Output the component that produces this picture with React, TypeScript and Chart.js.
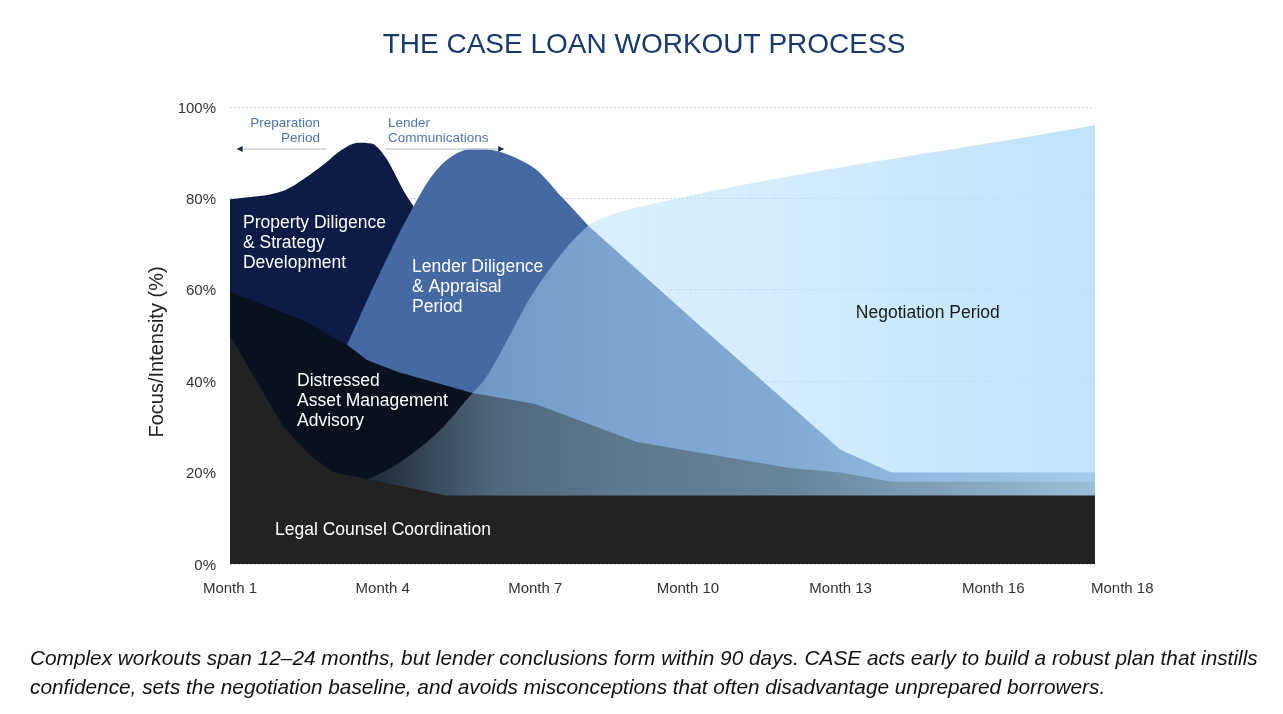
import React, { useEffect, useRef } from "react";
import { Chart, registerables } from "chart.js";

Chart.register(...registerables);

// ---------- text ----------
const TITLE = "THE CASE LOAN WORKOUT PROCESS";
const Y_TITLE = "Focus/Intensity (%)";
const CAPTION_LINES = [
  "Complex workouts span 12–24 months, but lender conclusions form within 90 days. CASE acts early to build a robust plan that instills",
  "confidence, sets the negotiation baseline, and avoids misconceptions that often disadvantage unprepared borrowers.",
];

// ---------- axes ----------
const monthTicks = [1, 4, 7, 10, 13, 16, 18];
const monthLabels = monthTicks.map((m) => `Month ${m}`);
const percentTicks = [0, 20, 40, 60, 80, 100];

// ---------- series (month, % focus) ----------
const legalMonths = [1, 2.05, 2.6, 3.05, 3.7, 5.25, 18];
const legalValues = [50, 30, 23.5, 20, 18.6, 15, 15];

const distressedMonths = [1, 2.4, 3.3, 3.7, 4.3, 5.75, 7, 9, 12, 13, 14, 18];
const distressedValues = [59.5, 53.5, 48, 44.6, 42, 37.5, 35, 26.7, 21, 20, 18, 18];

const lenderMonths = [3.3, 3.98, 4.57, 4.96, 5.36, 5.8, 6.27, 6.7, 7.03, 7.5, 8.04, 10.3, 13, 14, 18];
const lenderValues = [48, 64.5, 77.5, 84.8, 89.2, 90.9, 90.3, 88.4, 86.2, 80.5, 74, 51.5, 25, 20, 20];
// the rounded rise & peak runs up to month 8.04; the straight decline starts at month 7.5
const LENDER_CURVE_END = 10; // index of month 8.04
const LENDER_LINE_START = 9; // index of month 7.5

const propertyMonths = [1, 2.08, 2.47, 2.87, 3.19, 3.52, 3.78, 4.05, 4.44, 4.64, 5.0, 5.5, 6.0];
const propertyValues = [79.8, 81.8, 84.4, 87.7, 90.6, 92.2, 92, 89.1, 81.1, 77.5, 68, 50, 38];

const negotiationMonths = [3.7, 4.0, 4.6, 5.13, 5.78, 6.0, 7.0, 8.04, 8.45, 9.0, 18];
const negotiationValues = [18.6, 20, 24.3, 29.3, 37.6, 40.3, 60, 74, 76.2, 78, 96];

// ---------- styles ----------
const FONT = '"Liberation Sans", Arial, Helvetica, sans-serif';
const COLORS = {
  title: "#173a6e",
  legal: "#222222",
  distressed: "#09111f",
  lender: "#456aa3",
  property: "#0c1c47",
  negotiationRGB: "178,222,250",
  tick: "#333333",
  grid: "#d6d6d6",
  annotation: "#4c74b0",
  arrowLine: "#c9d0da",
  arrowHead: "#1c2b4a",
};
// alpha of the negotiation overlay along the months axis
const negotiationAlphaStops: [number, number][] = [
  [3.7, 0.12],
  [5, 0.28],
  [6.2, 0.42],
  [8.5, 0.5],
  [12, 0.56],
  [18, 0.85],
];

const toPoints = (xs: number[], ys: number[]) => xs.map((x, i) => ({ x, y: ys[i] }));

// region labels: lines, anchor month, first-baseline %, color
const regionLabels: { lines: string[]; month: number; pct: number; color: string }[] = [
  { lines: ["Property Diligence", "& Strategy", "Development"], month: 1.255, pct: 73.5, color: "#ffffff" },
  { lines: ["Lender Diligence", "& Appraisal", "Period"], month: 4.577, pct: 63.9, color: "#ffffff" },
  { lines: ["Distressed", "Asset Management", "Advisory"], month: 2.317, pct: 39.0, color: "#ffffff" },
  { lines: ["Legal Counsel Coordination"], month: 1.884, pct: 6.3, color: "#ffffff" },
  { lines: ["Negotiation Period"], month: 13.3, pct: 53.8, color: "#1a1a1a" },
];

const overlayPlugin = {
  id: "overlay",
  afterDraw(chart: any) {
    const { ctx } = chart;
    const xs = chart.scales.x;
    const ys = chart.scales.y;
    ctx.save();

    // title
    ctx.fillStyle = COLORS.title;
    ctx.font = `28px ${FONT}`;
    ctx.textAlign = "center";
    ctx.textBaseline = "alphabetic";
    ctx.fillText(TITLE, 644, 53);

    // region labels
    ctx.font = `17.5px ${FONT}`;
    ctx.textAlign = "left";
    regionLabels.forEach((r) => {
      ctx.fillStyle = r.color;
      const px = xs.getPixelForValue(r.month);
      const py = ys.getPixelForValue(r.pct);
      r.lines.forEach((l, i) => ctx.fillText(l, px, py + i * 20));
    });

    // top annotations
    const arrowY = ys.getPixelForValue(90.8);
    ctx.font = `13.5px ${FONT}`;
    ctx.fillStyle = COLORS.annotation;
    ctx.textAlign = "right";
    ctx.fillText("Preparation", 320, 127);
    ctx.fillText("Period", 320, 142);
    ctx.textAlign = "left";
    ctx.fillText("Lender", 388, 127);
    ctx.fillText("Communications", 388, 142);

    const drawArrow = (xFrom: number, xTo: number) => {
      ctx.strokeStyle = COLORS.arrowLine;
      ctx.lineWidth = 1.5;
      ctx.beginPath();
      ctx.moveTo(xFrom, arrowY);
      ctx.lineTo(xTo, arrowY);
      ctx.stroke();
      const dir = xTo > xFrom ? 1 : -1;
      ctx.fillStyle = COLORS.arrowHead;
      ctx.beginPath();
      ctx.moveTo(xTo + dir * 2, arrowY);
      ctx.lineTo(xTo - dir * 4, arrowY - 3);
      ctx.lineTo(xTo - dir * 4, arrowY + 3);
      ctx.closePath();
      ctx.fill();
    };
    drawArrow(xs.getPixelForValue(2.9), xs.getPixelForValue(1.17));
    drawArrow(xs.getPixelForValue(4.05), xs.getPixelForValue(6.35));

    // x tick labels
    ctx.font = `15px ${FONT}`;
    ctx.fillStyle = COLORS.tick;
    ctx.textBaseline = "middle";
    monthTicks.forEach((m, i) => {
      const px = xs.getPixelForValue(m);
      if (i === monthTicks.length - 1) {
        ctx.textAlign = "left";
        ctx.fillText(monthLabels[i], px - 4, 589);
      } else {
        ctx.textAlign = "center";
        ctx.fillText(monthLabels[i], px, 589);
      }
    });

    // y title
    ctx.save();
    ctx.translate(157, 352);
    ctx.rotate(-Math.PI / 2);
    ctx.font = `20px ${FONT}`;
    ctx.fillStyle = "#222222";
    ctx.textAlign = "center";
    ctx.textBaseline = "middle";
    ctx.fillText(Y_TITLE, 0, 0);
    ctx.restore();

    // caption
    ctx.font = `italic 20.8px ${FONT}`;
    ctx.fillStyle = "#111111";
    ctx.textAlign = "left";
    ctx.textBaseline = "alphabetic";
    CAPTION_LINES.forEach((l, i) => ctx.fillText(l, 30, 665 + i * 29));

    ctx.restore();
  },
};

const negotiationFill = (c: any) => {
  const chart = c.chart;
  const xs = chart.scales && chart.scales.x;
  if (!chart.chartArea || !xs) return `rgba(${COLORS.negotiationRGB},0.5)`;
  const m0 = negotiationAlphaStops[0][0];
  const m1 = negotiationAlphaStops[negotiationAlphaStops.length - 1][0];
  const g = chart.ctx.createLinearGradient(xs.getPixelForValue(m0), 0, xs.getPixelForValue(m1), 0);
  negotiationAlphaStops.forEach(([m, a]) => {
    g.addColorStop((m - m0) / (m1 - m0), `rgba(${COLORS.negotiationRGB},${a})`);
  });
  return g;
};

const baseArea = {
  fill: "origin",
  borderWidth: 0,
  borderColor: "rgba(0,0,0,0)",
  pointRadius: 0,
  pointHoverRadius: 0,
};

export default function App() {
  const ref = useRef<HTMLCanvasElement>(null);

  useEffect(() => {
    const canvas = ref.current;
    if (!canvas) return;
    const lenderCurve = toPoints(
      lenderMonths.slice(0, LENDER_CURVE_END + 1),
      lenderValues.slice(0, LENDER_CURVE_END + 1)
    );
    const lenderLine = toPoints(lenderMonths.slice(LENDER_LINE_START), lenderValues.slice(LENDER_LINE_START));
    const chart = new Chart(canvas, {
      type: "line",
      data: {
        datasets: [
          // index 0 is drawn on top
          { ...baseArea, label: "Legal Counsel Coordination", data: toPoints(legalMonths, legalValues), backgroundColor: COLORS.legal, tension: 0 } as any,
          { ...baseArea, label: "Negotiation Period", data: toPoints(negotiationMonths, negotiationValues), backgroundColor: negotiationFill, cubicInterpolationMode: "monotone" } as any,
          { ...baseArea, label: "Distressed Asset Management Advisory", data: toPoints(distressedMonths, distressedValues), backgroundColor: COLORS.distressed, tension: 0 } as any,
          { ...baseArea, label: "Lender Diligence & Appraisal Period", data: lenderCurve, backgroundColor: COLORS.lender, cubicInterpolationMode: "monotone" } as any,
          { ...baseArea, label: "Lender Diligence & Appraisal Period (decline)", data: lenderLine, backgroundColor: COLORS.lender, tension: 0 } as any,
          { ...baseArea, label: "Property Diligence & Strategy Development", data: toPoints(propertyMonths, propertyValues), backgroundColor: COLORS.property, cubicInterpolationMode: "monotone" } as any,
        ],
      },
      options: {
        animation: false,
        responsive: false,
        devicePixelRatio: 1,
        events: [],
        layout: { padding: { left: 0, right: 188, top: 107, bottom: 0 } },
        plugins: {
          legend: { display: false },
          tooltip: { enabled: false },
          title: { display: false },
        },
        scales: {
          x: {
            type: "linear",
            min: 1,
            max: 18,
            afterBuildTicks: (s: any) => {
              s.ticks = monthTicks.map((v) => ({ value: v }));
            },
            ticks: { display: false },
            grid: { display: false },
            border: { display: false },
            afterFit: (s: any) => {
              s.height = 150;
            },
          },
          y: {
            type: "linear",
            min: 0,
            max: 100,
            afterBuildTicks: (s: any) => {
              s.ticks = percentTicks.map((v) => ({ value: v }));
            },
            ticks: {
              callback: (v: any) => `${v}%`,
              font: { family: FONT, size: 15 },
              color: COLORS.tick,
              padding: 14,
              labelOffset: 1.5,
            },
            grid: { color: COLORS.grid, lineWidth: 1, drawTicks: false },
            border: { display: false, dash: [2, 2] },
            afterFit: (s: any) => {
              s.width = 230;
            },
          },
        },
      } as any,
      plugins: [overlayPlugin],
    });
    return () => chart.destroy();
  }, []);

  return (
    <canvas
      ref={ref}
      width={1283}
      height={714}
      style={{ position: "absolute", left: 0, top: 0, display: "block", background: "#ffffff" }}
    />
  );
}
